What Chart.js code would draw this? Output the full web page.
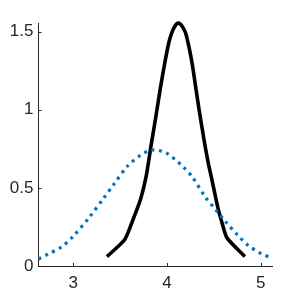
<!DOCTYPE html>
<html><head><meta charset="utf-8">
<script src="https://cdn.jsdelivr.net/npm/chart.js@4/dist/chart.umd.min.js"></script>
<style>html,body{margin:0;padding:0;background:#fff}#c{display:block}</style>
</head><body>
<canvas id="c" width="300" height="300"></canvas>
<script>
const blueX = [2.63, 2.73, 2.88, 3.00, 3.17, 3.32, 3.43, 3.58, 3.72, 3.80, 3.87, 3.94, 4.00, 4.09, 4.18, 4.27, 4.41, 4.52, 4.63, 4.75, 4.86, 5.00, 5.12];
const blueY = [0.045, 0.075, 0.124, 0.19, 0.31, 0.43, 0.52, 0.64, 0.71, 0.735, 0.744, 0.735, 0.72, 0.68, 0.63, 0.57, 0.44, 0.36, 0.28, 0.20, 0.135, 0.08, 0.05];
const blackX = [3.36, 3.55, 3.64, 3.72, 3.78, 3.83, 3.88, 3.93, 3.98, 4.02, 4.05, 4.08, 4.105, 4.13, 4.155, 4.18, 4.20, 4.235, 4.27, 4.31, 4.34, 4.40, 4.44, 4.48, 4.54, 4.59, 4.64, 4.83];
const blackY = [0.06, 0.17, 0.30, 0.43, 0.58, 0.77, 0.95, 1.14, 1.31, 1.43, 1.49, 1.53, 1.55, 1.553, 1.54, 1.515, 1.49, 1.40, 1.29, 1.13, 1.01, 0.79, 0.66, 0.55, 0.38, 0.27, 0.18, 0.06];
const xTicks = [3, 4, 5];
const yTicks = [0, 0.5, 1, 1.5];

const axisColor = '#262626';
const tickFont = {family: '"Liberation Sans", Arial, sans-serif', size: 17};

const inwardTicks = {
  id: 'inwardTicks',
  afterDraw(chart) {
    const ctx = chart.ctx, xs = chart.scales.x, ys = chart.scales.y;
    ctx.save();
    ctx.strokeStyle = axisColor; ctx.lineWidth = 1;
    ctx.beginPath();
    xTicks.forEach(v => { const p = Math.round(xs.getPixelForValue(v)) + 0.5; ctx.moveTo(p, ys.bottom); ctx.lineTo(p, ys.bottom - 3); });
    yTicks.forEach(v => { const p = Math.round(ys.getPixelForValue(v)) + 0.5; ctx.moveTo(xs.left, p); ctx.lineTo(xs.left + 3, p); });
    ctx.stroke();
    ctx.restore();
  }
};

new Chart(document.getElementById('c'), {
  type: 'line',
  data: {
    datasets: [
      {
        data: blueX.map((x, i) => ({x, y: blueY[i]})),
        borderColor: '#0072BD', borderWidth: 3.2, borderDash: [3, 4.6],
        pointRadius: 0, fill: false, tension: 0.3, clip: false
      },
      {
        data: blackX.map((x, i) => ({x, y: blackY[i]})),
        borderColor: '#000000', borderWidth: 3.6, borderJoinStyle: 'round',
        pointRadius: 0, fill: false, tension: 0.2, clip: false
      }
    ]
  },
  options: {
    responsive: false, animation: false,
    layout: {padding: {top: 23, right: 28, left: 0, bottom: 0}},
    plugins: {legend: {display: false}, tooltip: {enabled: false}},
    scales: {
      x: {
        type: 'linear', min: 2.63, max: 5.12,
        afterBuildTicks: s => { s.ticks = xTicks.map(v => ({value: v})); },
        afterFit: s => { s.height = 34; },
        grid: {display: true, drawOnChartArea: false, drawTicks: false},
        border: {display: true, color: axisColor, width: 1},
        ticks: {color: axisColor, font: tickFont, padding: 7, maxRotation: 0, callback: v => String(v)}
      },
      y: {
        type: 'linear', min: 0, max: 1.555,
        afterBuildTicks: s => { s.ticks = yTicks.map(v => ({value: v})); },
        afterFit: s => { s.width = 38.5; },
        grid: {display: true, drawOnChartArea: false, drawTicks: false},
        border: {display: true, color: axisColor, width: 1},
        ticks: {color: axisColor, font: tickFont, padding: 5, callback: v => String(v)}
      }
    }
  },
  plugins: [inwardTicks]
});
</script>
</body></html>
